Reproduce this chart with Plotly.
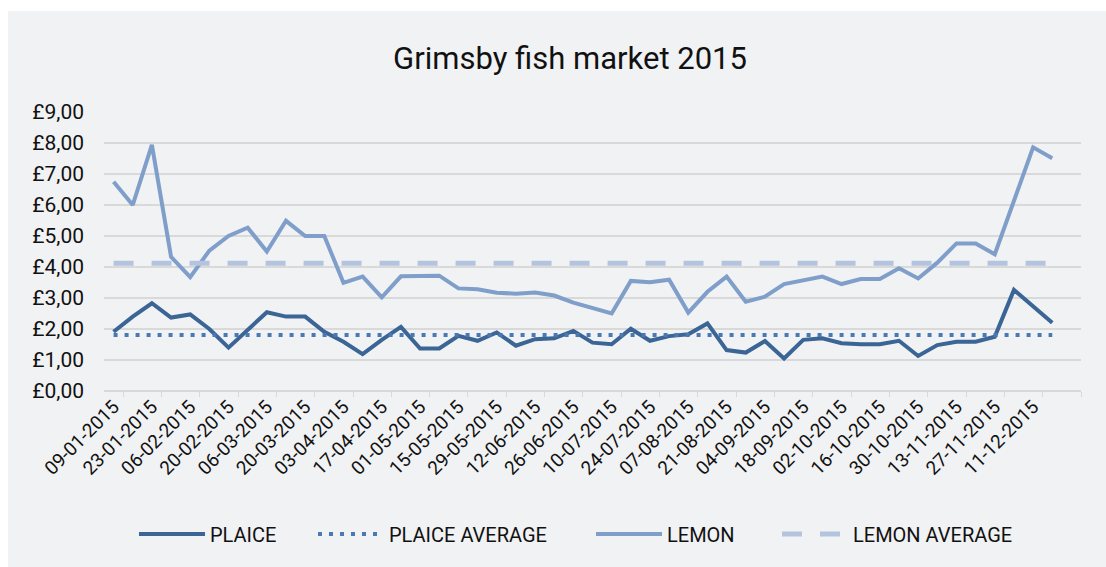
import plotly.graph_objects as go

TITLE = "Grimsby fish market 2015"

DATES = [
    "09-01-2015", "16-01-2015", "23-01-2015", "30-01-2015", "06-02-2015", "13-02-2015",
    "20-02-2015", "27-02-2015", "06-03-2015", "13-03-2015", "20-03-2015", "27-03-2015",
    "03-04-2015", "10-04-2015", "17-04-2015", "24-04-2015", "01-05-2015", "08-05-2015",
    "15-05-2015", "22-05-2015", "29-05-2015", "05-06-2015", "12-06-2015", "19-06-2015",
    "26-06-2015", "03-07-2015", "10-07-2015", "17-07-2015", "24-07-2015", "31-07-2015",
    "07-08-2015", "14-08-2015", "21-08-2015", "28-08-2015", "04-09-2015", "11-09-2015",
    "18-09-2015", "25-09-2015", "02-10-2015", "09-10-2015", "16-10-2015", "23-10-2015",
    "30-10-2015", "06-11-2015", "13-11-2015", "20-11-2015", "27-11-2015", "04-12-2015",
    "11-12-2015", "18-12-2015",
]
# the axis has one more (empty) week slot at the end: 25-12-2015
AXIS_SLOTS = 51

PLAICE = [
    1.91, 2.40, 2.83, 2.37, 2.47, 2.00, 1.40, 1.97, 2.54, 2.40,
    2.40, 1.91, 1.59, 1.19, 1.65, 2.07, 1.37, 1.37, 1.78, 1.62,
    1.89, 1.46, 1.67, 1.70, 1.94, 1.56, 1.51, 2.01, 1.62, 1.77,
    1.83, 2.18, 1.32, 1.24, 1.61, 1.05, 1.65, 1.70, 1.54, 1.51,
    1.51, 1.62, 1.13, 1.48, 1.59, 1.59, 1.75, 3.26, 2.74, 2.20,
]
LEMON = [
    6.75, 6.00, 7.94, 4.33, 3.67, 4.53, 5.00, 5.27, 4.50, 5.49,
    5.00, 5.00, 3.49, 3.69, 3.02, 3.70, 3.71, 3.72, 3.31, 3.28,
    3.17, 3.14, 3.18, 3.08, 2.85, 2.69, 2.50, 3.55, 3.51, 3.59,
    2.53, 3.20, 3.69, 2.88, 3.04, 3.45, 3.58, 3.69, 3.45, 3.61,
    3.61, 3.96, 3.63, 4.14, 4.76, 4.76, 4.41, 6.16, 7.86, 7.51,
]
PLAICE_AVERAGE = 1.81
LEMON_AVERAGE = 4.12

X = list(range(len(DATES)))
TICK_POS = X[::2]
TICK_TEXT = DATES[::2]

BG = "#f1f2f4"
GRID = "#d9d9d9"
FONT = "Roboto"

# plot area in pixels
L, R, T, B = 104, 1081, 112, 391
PW, PH = R - L, B - T


def px_x(p):
    return (p - L) / PW


def px_y(p):
    return (B - p) / PH


fig = go.Figure()
fig.add_trace(go.Scatter(x=X, y=PLAICE, name="PLAICE", mode="lines", legend="legend",
                         line=dict(color="#3a6595", width=4)))
fig.add_trace(go.Scatter(x=X, y=[PLAICE_AVERAGE] * len(X), name="PLAICE AVERAGE", mode="lines",
                         legend="legend2",
                         line=dict(color="#4a78b4", width=4, dash="4px,7px")))
fig.add_trace(go.Scatter(x=X, y=LEMON, name="LEMON", mode="lines", legend="legend3",
                         line=dict(color="#7f9eca", width=4)))
fig.add_trace(go.Scatter(x=X, y=[LEMON_AVERAGE] * len(X), name="LEMON AVERAGE", mode="lines",
                         legend="legend4",
                         line=dict(color="#b5c4de", width=5, dash="20px,18px")))

LEG_Y = px_y(534)
leg_common = dict(orientation="h", yanchor="middle", xanchor="left", y=LEG_Y,
                  itemwidth=66,
                  font=dict(family=FONT, size=20, color="#111111"),
                  bgcolor="rgba(0,0,0,0)")

fig.update_layout(
    width=1106, height=567,
    margin=dict(l=L, r=1106 - R, t=T, b=567 - B),
    paper_bgcolor="white",
    plot_bgcolor=BG,
    separators=",.",
    font=dict(family=FONT, color="#1a1a1a", size=17),
    title=dict(text=TITLE, x=570 / 1106, xref="container", xanchor="center",
               y=1 - 58 / 567, yref="container", yanchor="middle",
               font=dict(family=FONT, size=31, color="#111111")),
    showlegend=True,
    legend=dict(x=px_x(139 - 5), **leg_common),
    legend2=dict(x=px_x(318 - 5), **leg_common),
    legend3=dict(x=px_x(596 - 5), **leg_common),
    legend4=dict(x=px_x(782 - 5), **leg_common),
    shapes=[dict(type="rect", xref="paper", yref="paper", layer="below",
                 x0=px_x(8), x1=px_x(1106),
                 y0=px_y(567), y1=px_y(11),
                 fillcolor=BG, line=dict(width=0))],
)
fig.update_xaxes(
    range=[-0.5, AXIS_SLOTS - 0.5], tickmode="array", tickvals=TICK_POS, ticktext=TICK_TEXT,
    tickangle=-45, ticks="", showgrid=False, zeroline=False,
    showline=False, tickfont=dict(size=19, color="#111111"),
    minor=dict(tick0=0.5, dtick=2, ticks="outside", ticklen=5, tickcolor=GRID, showgrid=False),
)
fig.update_yaxes(
    range=[0, 9], dtick=1, tick0=0, tickprefix="£", tickformat=".2f",
    showgrid=True, gridcolor=GRID, gridwidth=1.5, zeroline=True, zerolinecolor=GRID,
    zerolinewidth=1.5, showline=False, ticks="", ticklabelstandoff=19,
    tickfont=dict(size=21, color="#111111"),
)

fig.write_html("out.html", post_script="document.body.style.margin='0';",
               config={"displayModeBar": False})
